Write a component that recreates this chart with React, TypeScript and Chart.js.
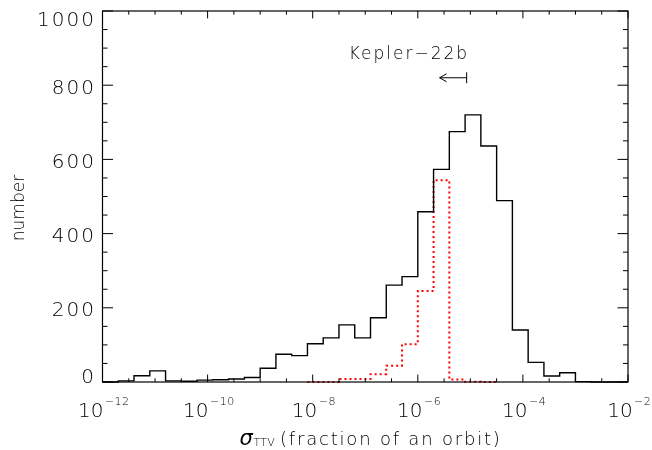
import React, { useEffect, useRef } from 'react';
import { Chart, registerables } from 'chart.js';

Chart.register(...registerables);

// Histogram bin left edges, log10(sigma_TTV); last entry closes the final bin
const BIN_EDGES_EXP = [
  -12.0, -11.7, -11.4, -11.1, -10.8, -10.5, -10.2, -9.9, -9.6, -9.3, -9.0, -8.7,
  -8.4, -8.1, -7.8, -7.5, -7.2, -6.9, -6.6, -6.3, -6.0, -5.7, -5.4, -5.1, -4.8,
  -4.5, -4.2, -3.9, -3.6, -3.3, -3.0, -2.7, -2.4, -2.1, -2.0,
];
// All systems (black solid)
const ALL_COUNTS = [
  0, 3, 17, 30, 3, 2, 5, 6, 8, 12, 37, 75, 71, 103, 119, 154, 119, 173, 261, 284,
  459, 573, 675, 720, 636, 489, 140, 53, 16, 25, 1, 0, 0, 0,
];
// Subset (red dotted)
const RED_EDGES_EXP = [-8.1, -7.8, -7.5, -7.2, -6.9, -6.6, -6.3, -6.0, -5.7, -5.4, -5.1, -4.8, -4.5];
const RED_COUNTS = [0, 0, 8, 8, 21, 44, 102, 245, 544, 7, 1, 0];

const X_MAJOR_EXP = [-12, -10, -8, -6, -4, -2];
const X_MINOR_EXP = [-11.5, -11, -10.5, -9.5, -9, -8.5, -7.5, -7, -6.5, -5.5, -5, -4.5, -3.5, -3, -2.5];
const Y_MAJOR = [0, 200, 400, 600, 800, 1000];
const Y_MINOR = [50, 100, 150, 250, 300, 350, 450, 500, 550, 650, 700, 750, 850, 900, 950];

const KEPLER_LABEL = 'Kepler\u221222b';
const KEPLER_UPPER = 8.5e-6;
const KEPLER_ARROW_TIP = 2.6e-6;
const KEPLER_Y = 820;

const FONT = '"DejaVu Sans"';
const W = '200';

function toPoints(edges: number[], counts: number[]) {
  return edges.map((e, i) => ({ x: Math.pow(10, e), y: counts[Math.min(i, counts.length - 1)] }));
}

function textWidth(ctx: CanvasRenderingContext2D, text: string, spacing: number) {
  ctx.letterSpacing = '0px';
  const w = ctx.measureText(text).width;
  return w + spacing * ([...text].length - 1);
}

function drawText(
  ctx: CanvasRenderingContext2D,
  text: string,
  x: number,
  y: number,
  font: string,
  align: 'left' | 'right' | 'center',
  spacing = 0,
) {
  ctx.font = font;
  const w = textWidth(ctx, text, spacing);
  let sx = x;
  if (align === 'right') sx = x - w;
  else if (align === 'center') sx = x - w / 2;
  ctx.letterSpacing = spacing + 'px';
  ctx.textAlign = 'left';
  ctx.textBaseline = 'alphabetic';
  ctx.fillText(text, sx, y);
  ctx.letterSpacing = '0px';
  return w;
}

const axesPlugin = {
  id: 'idlAxes',
  afterDraw(chart: any) {
    const ctx: CanvasRenderingContext2D = chart.ctx;
    const { left, right, top, bottom } = chart.chartArea;
    const xs = chart.scales.x;
    const ys = chart.scales.y;
    ctx.save();
    ctx.strokeStyle = '#000';
    ctx.fillStyle = '#000';
    ctx.lineWidth = 1.2;
    ctx.strokeRect(left, top, right - left, bottom - top);

    const xMajLen = 7.4, xMinLen = 3.7, yMajLen = 10.5, yMinLen = 5;
    ctx.lineWidth = 1;
    ctx.beginPath();
    const xTick = (e: number, len: number) => {
      const px = xs.getPixelForValue(Math.pow(10, e));
      ctx.moveTo(px, bottom);
      ctx.lineTo(px, bottom - len);
      ctx.moveTo(px, top);
      ctx.lineTo(px, top + len);
    };
    X_MAJOR_EXP.forEach((e) => xTick(e, xMajLen));
    X_MINOR_EXP.forEach((e) => xTick(e, xMinLen));
    const yTick = (v: number, len: number) => {
      const py = ys.getPixelForValue(v);
      ctx.moveTo(left, py);
      ctx.lineTo(left + len, py);
      ctx.moveTo(right, py);
      ctx.lineTo(right - len, py);
    };
    Y_MAJOR.forEach((v) => yTick(v, yMajLen));
    Y_MINOR.forEach((v) => yTick(v, yMinLen));
    ctx.stroke();

    // y tick labels
    Y_MAJOR.forEach((v) => {
      const py = ys.getPixelForValue(v);
      const c = Math.min(Math.max(py + 1, top + 8), bottom - 6);
      drawText(ctx, String(v), 94, c + 7.3, `${W} 20px ${FONT}`, 'right', 2);
    });

    // x tick labels 10^n
    X_MAJOR_EXP.forEach((e) => {
      const px = xs.getPixelForValue(Math.pow(10, e));
      const base = '10';
      const sup = '\u2212' + String(Math.abs(e));
      ctx.font = `${W} 20px ${FONT}`;
      const wb = textWidth(ctx, base, 0);
      ctx.font = `${W} 11px ${FONT}`;
      const ws = textWidth(ctx, sup, 0.5);
      const total = wb + 1.5 + ws;
      const sx = px - total / 2 + 1;
      drawText(ctx, base, sx, 416.5, `${W} 20px ${FONT}`, 'left');
      drawText(ctx, sup, sx + wb + 1.5, 405, `${W} 11px ${FONT}`, 'left', 0.5);
    });

    // x title
    drawText(ctx, '\u03c3', 239.5, 445, `italic 21px ${FONT}`, 'left');
    drawText(ctx, 'TTV', 253.5, 445.5, `${W} 11px ${FONT}`, 'left', 0.3);
    drawText(ctx, '(fraction of an orbit)', 280, 445, `${W} 18px ${FONT}`, 'left', 1.8);

    // y title
    ctx.save();
    ctx.translate(23.5, 208);
    ctx.rotate(-Math.PI / 2);
    drawText(ctx, 'number', 0, 0, `${W} 17px ${FONT}`, 'center', 0);
    ctx.restore();

    // Kepler-22b annotation
    const ax = xs.getPixelForValue(KEPLER_UPPER);
    const atip = xs.getPixelForValue(KEPLER_ARROW_TIP);
    const ay = ys.getPixelForValue(KEPLER_Y);
    drawText(ctx, KEPLER_LABEL, ax + 0.5, ay - 18.5, `${W} 17px ${FONT}`, 'right', 2);
    ctx.lineWidth = 1;
    ctx.beginPath();
    ctx.moveTo(atip, ay);
    ctx.lineTo(ax, ay);
    ctx.moveTo(ax, ay - 5.5);
    ctx.lineTo(ax, ay + 5.5);
    ctx.moveTo(atip + 7, ay - 4);
    ctx.lineTo(atip, ay);
    ctx.lineTo(atip + 7, ay + 4);
    ctx.stroke();
    ctx.restore();
  },
};

export default function App() {
  const ref = useRef<HTMLCanvasElement | null>(null);
  useEffect(() => {
    if (!ref.current) return;
    const chart = new Chart(ref.current, {
      type: 'line',
      data: {
        datasets: [
          {
            label: 'all',
            data: toPoints(BIN_EDGES_EXP, ALL_COUNTS),
            borderColor: '#000',
            borderWidth: 1.4,
            stepped: 'before',
            pointRadius: 0,
            fill: false,
            clip: false,
          } as any,
          {
            label: 'subset',
            data: toPoints(RED_EDGES_EXP, RED_COUNTS),
            borderColor: '#ff0000',
            borderWidth: 2,
            borderDash: [2, 3],
            stepped: 'before',
            pointRadius: 0,
            fill: false,
            clip: false,
          } as any,
        ],
      },
      options: {
        responsive: false,
        animation: false,
        events: [],
        layout: { padding: { left: 102.5, right: 24, top: 11, bottom: 68 } },
        plugins: { legend: { display: false }, tooltip: { enabled: false } },
        scales: {
          x: { type: 'logarithmic', min: 1e-12, max: 1e-2, display: false },
          y: { type: 'linear', min: 0, max: 1000, display: false },
        },
      },
      plugins: [axesPlugin],
    });
    return () => chart.destroy();
  }, []);
  return (
    <div style={{ position: 'fixed', left: 0, top: 0, width: 652, height: 450, background: '#fff' }}>
      <canvas ref={ref} width={652} height={450} style={{ display: 'block', width: 652, height: 450 }} />
    </div>
  );
}
